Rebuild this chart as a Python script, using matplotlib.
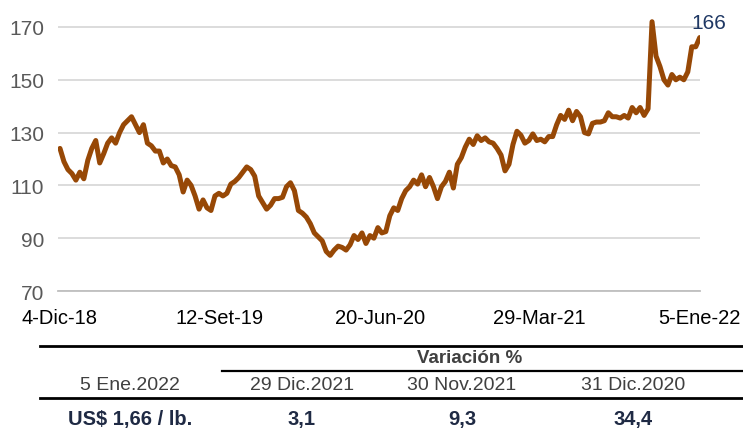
import pandas as pd
import matplotlib.pyplot as plt

# precio semanal (centavos US$/lb.)
precio = [124, 119, 116, 114.5, 112, 115, 112.5, 119.5, 124, 127,
          118.5, 122, 126, 128, 126, 130, 133, 134.5, 136, 133,
          130, 133, 126, 125, 123, 123, 118.5, 120, 117.5, 117,
          114, 107.5, 112, 110, 106, 101, 104.5, 101.5, 100.5, 106,
          107, 106, 107, 110.5, 111.5, 113, 115, 117, 116, 113.5,
          106, 103.5, 101, 102.5, 105, 105, 105.5, 109.5, 111, 108,
          100.5, 99.5, 98, 95.5, 92, 90.5, 89, 85, 83.5, 85.5,
          87, 86.5, 85.5, 87.5, 91, 89.5, 92, 88, 91, 90,
          94, 92, 92.5, 98.5, 101.5, 100.5, 105, 108, 109.5, 112,
          110.5, 114, 109.5, 113, 109.5, 105, 109.5, 111.5, 115, 109,
          118, 120.5, 124.5, 127.5, 125.5, 128.8, 127, 128, 126.5, 126,
          124, 121.5, 115.5, 118, 125.5, 130.5, 129, 126, 127, 129.5,
          127, 127.5, 126.5, 128.5, 128.5, 133, 136.5, 135, 138.5, 134.5,
          138, 136, 130, 129.5, 133.5, 134, 134, 134.5, 137.5, 136,
          136, 135.5, 136.5, 135.5, 139.5, 137.5, 139.5, 136.5, 139, 172,
          159, 155, 150, 148, 152, 150, 151, 150, 153, 162.5,
          162.5, 166]
fechas = pd.date_range('2018-12-04', '2022-01-05', periods=len(precio))

ticks_fechas = pd.to_datetime(['2018-12-04', '2019-09-12', '2020-06-20',
                               '2021-03-29', '2022-01-05'])
ticks_texto = ['4-Dic-18', '12-Set-19', '20-Jun-20', '29-Mar-21', '5-Ene-22']
ticks_y = [70, 90, 110, 130, 150, 170]

tabla_fechas = ['5 Ene.2022', '29 Dic.2021', '30 Nov.2021', '31 Dic.2020']
tabla_valores = ['US$ 1,66 / lb.', '3,1', '9,3', '34,4']

plt.rcParams['font.family'] = ['Liberation Sans', 'DejaVu Sans']

W, H = 743, 431
fig = plt.figure(figsize=(W / 100, H / 100), dpi=100)
ax = fig.add_axes([58 / W, 1 - 292 / H, 642 / W, 278 / H])

ax.plot(fechas, precio, color='#974806', lw=3.6, solid_joinstyle='round',
        solid_capstyle='round')
ax.annotate(f'{precio[-1]:.0f}', xy=(fechas[-1], precio[-1]),
            xytext=(-6, 7), textcoords='offset points', ha='left',
            va='baseline', fontsize=15, color='#1f3864')

ax.set_ylim(70, 175.3)
ax.set_xlim(pd.Timestamp('2018-11-30 12:00'), pd.Timestamp('2022-01-05 12:00'))
ax.set_yticks(ticks_y)
ax.set_xticks(ticks_fechas)
ax.set_xticklabels(ticks_texto)
ax.yaxis.grid(True, color='#d9d9d9', lw=1.3)
ax.set_axisbelow(True)
for s in ['top', 'right', 'left']:
    ax.spines[s].set_visible(False)
ax.spines['bottom'].set_color('#bfbfbf')
ax.spines['bottom'].set_linewidth(1.3)
ax.tick_params(axis='y', length=0, pad=10, labelsize=15, labelcolor='#595959')
ax.tick_params(axis='x', length=0, pad=12, labelsize=14.5, labelcolor='black')

# tabla inferior
def fy(y):
    return 1 - y / H

def linea(x0, x1, y, lw):
    fig.add_artist(plt.Line2D([x0 / W, x1 / W], [fy(y), fy(y)],
                              color='black', lw=lw))

cols = [130, 302, 462, 633]
linea(40, 743, 347, 2)
fig.text(470 / W, fy(359), 'Variación %', ha='center', va='center',
         fontsize=13.5, fontweight='bold', color='#404040')
linea(222, 743, 372, 1.6)
for c, t in zip(cols, tabla_fechas):
    fig.text(c / W, fy(386), t, ha='center', va='center', fontsize=14,
             color='#404040')
linea(40, 743, 399, 2)
for c, t in zip(cols, tabla_valores):
    fig.text(c / W, fy(420), t, ha='center', va='center', fontsize=14.5,
             fontweight='bold', color='#1f2a44')

fig.savefig('out.png', dpi=100)
